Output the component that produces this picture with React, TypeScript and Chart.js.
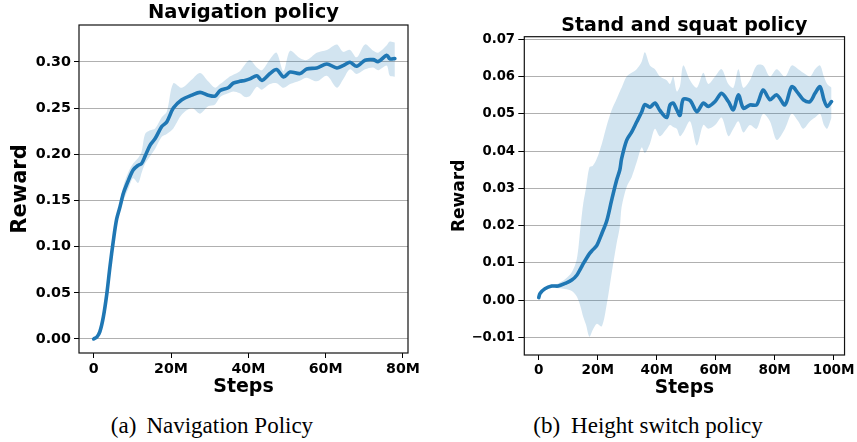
import React, { useEffect, useRef } from 'react';
import { Chart, registerables } from 'chart.js';

Chart.register(...registerables);

// ---------- Data: Navigation policy (steps in millions) ----------
const NAV_STEPS = [0, 0.8, 1.6, 2.5, 3.4, 4.2, 5.1, 5.9, 6.8, 7.7, 9.0, 10.2, 11.5, 12.4, 13.3, 14.6, 15.9, 17.6, 18.9, 20.6, 22.8, 25.4, 27.5, 29.6, 31.4, 32.7, 34.8, 36.1, 37.8, 39.1, 40.4, 42.2, 43.5, 45.6, 47.3, 49.1, 50.8, 53.4, 55.1, 57.7, 60.3, 62.9, 64.5, 66.3, 68.0, 70.2, 72.3, 73.6, 75.8, 76.6, 77.9];
const NAV_MEAN = [0.0, 0.002, 0.008, 0.024, 0.049, 0.078, 0.107, 0.129, 0.143, 0.158, 0.172, 0.183, 0.188, 0.19, 0.198, 0.21, 0.217, 0.23, 0.235, 0.25, 0.259, 0.264, 0.267, 0.264, 0.263, 0.269, 0.272, 0.277, 0.279, 0.28, 0.2816, 0.285, 0.28, 0.2874, 0.2917, 0.2837, 0.289, 0.2874, 0.2924, 0.2935, 0.2978, 0.2935, 0.296, 0.2996, 0.2953, 0.3018, 0.3025, 0.3004, 0.3072, 0.3033, 0.3036];
const NAV_UPPER = [0.001, 0.003, 0.01, 0.026, 0.051, 0.08, 0.11, 0.133, 0.148, 0.166, 0.181, 0.19, 0.196, 0.203, 0.222, 0.226, 0.228, 0.24, 0.246, 0.277, 0.272, 0.281, 0.288, 0.279, 0.272, 0.276, 0.283, 0.286, 0.29, 0.297, 0.302, 0.294, 0.291, 0.303, 0.31, 0.29, 0.312, 0.304, 0.302, 0.31, 0.313, 0.319, 0.311, 0.313, 0.305, 0.319, 0.312, 0.31, 0.318, 0.322, 0.321];
const NAV_LOWER = [-0.001, 0.001, 0.006, 0.022, 0.047, 0.076, 0.104, 0.125, 0.138, 0.15, 0.163, 0.174, 0.169, 0.18, 0.19, 0.198, 0.206, 0.219, 0.222, 0.228, 0.243, 0.25, 0.244, 0.252, 0.254, 0.262, 0.266, 0.268, 0.266, 0.262, 0.263, 0.273, 0.27, 0.276, 0.277, 0.272, 0.276, 0.28, 0.283, 0.279, 0.285, 0.272, 0.281, 0.292, 0.287, 0.292, 0.294, 0.291, 0.296, 0.285, 0.284];
const NAV_Y_TICKS = [0, 0.05, 0.1, 0.15, 0.2, 0.25, 0.3];
const NAV_X_TICKS = [0, 20, 40, 60, 80];
const NAV_X_LABELS = ['0', '20M', '40M', '60M', '80M'];

// ---------- Data: Stand and squat policy (steps in millions) ----------
const SQ_STEPS = [0, 0.44, 2.1, 4.4, 6.6, 8.9, 11.2, 12.9, 14.2, 15.1, 16.0, 17.2, 18.3, 19.7, 21.4, 23.1, 24.7, 26.4, 27.5, 28.1, 29.8, 31.5, 33.2, 34.9, 36.0, 37.7, 39.4, 41.1, 43.4, 44.5, 45.6, 46.8, 47.9, 49.0, 51.3, 53.6, 55.8, 57.5, 59.8, 62.0, 64.3, 66.0, 67.7, 69.4, 71.6, 73.9, 76.1, 78.4, 80.7, 83.5, 85.8, 88.0, 89.7, 92.0, 93.7, 95.4, 96.7, 97.8, 99.3];
const SQ_MEAN = [0.0007, 0.0018, 0.0031, 0.0038, 0.0038, 0.0045, 0.0054, 0.0067, 0.0085, 0.0098, 0.011, 0.0125, 0.0135, 0.0147, 0.0179, 0.0214, 0.0268, 0.0322, 0.035, 0.038, 0.0429, 0.0451, 0.0478, 0.0505, 0.0525, 0.0518, 0.0529, 0.0509, 0.049, 0.0524, 0.0529, 0.0511, 0.0496, 0.0539, 0.0536, 0.0506, 0.0529, 0.052, 0.0533, 0.0555, 0.0533, 0.0511, 0.0551, 0.0515, 0.0524, 0.0524, 0.0564, 0.0538, 0.0551, 0.0524, 0.0573, 0.0555, 0.0538, 0.0533, 0.0555, 0.0573, 0.0538, 0.052, 0.0533];
const SQ_UPPER = [0.0009, 0.002, 0.0034, 0.0042, 0.0045, 0.0056, 0.0075, 0.011, 0.02, 0.026, 0.03, 0.0357, 0.036, 0.038, 0.042, 0.047, 0.051, 0.054, 0.056, 0.057, 0.06, 0.061, 0.062, 0.064, 0.0665, 0.063, 0.062, 0.06, 0.059, 0.058, 0.06, 0.056, 0.0575, 0.063, 0.059, 0.057, 0.061, 0.058, 0.06, 0.062, 0.058, 0.057, 0.062, 0.057, 0.059, 0.063, 0.063, 0.06, 0.062, 0.06, 0.063, 0.062, 0.061, 0.06, 0.062, 0.063, 0.06, 0.058, 0.057];
const SQ_LOWER = [0.0005, 0.0016, 0.0028, 0.0034, 0.0032, 0.003, 0.0025, 0.001, -0.0018, -0.0045, -0.0065, -0.0098, -0.008, -0.0063, -0.007, -0.0009, 0.0071, 0.0152, 0.0197, 0.025, 0.0304, 0.033, 0.037, 0.041, 0.0395, 0.042, 0.046, 0.044, 0.046, 0.047, 0.0465, 0.046, 0.044, 0.045, 0.048, 0.0415, 0.047, 0.046, 0.047, 0.049, 0.044, 0.046, 0.048, 0.045, 0.047, 0.046, 0.05, 0.048, 0.043, 0.046, 0.05, 0.048, 0.046, 0.048, 0.049, 0.05, 0.047, 0.046, 0.049];
const SQ_Y_TICKS = [-0.01, 0, 0.01, 0.02, 0.03, 0.04, 0.05, 0.06, 0.07];
const SQ_X_TICKS = [0, 20, 40, 60, 80, 100];
const SQ_X_LABELS = ['0', '20M', '40M', '60M', '80M', '100M'];

const BLUE = '#1f77b4';
const BAND = 'rgba(31, 119, 180, 0.2)';
const FONT = '"DejaVu Sans", sans-serif';

const framePlugin = {
  id: 'frame',
  afterDraw(chart: any) {
    const { ctx, chartArea: a } = chart;
    ctx.save();
    ctx.strokeStyle = '#111';
    ctx.lineWidth = 1.2;
    ctx.strokeRect(a.left, a.top, a.right - a.left, a.bottom - a.top);
    ctx.restore();
  },
};

function fmtY(v: number) {
  const s = Math.abs(v).toFixed(2);
  return v < -1e-9 ? '\u2212' + s : s;
}

function makeConfig(p: any) {
  const pts = (ys: number[]) => p.steps.map((x: number, i: number) => ({ x, y: ys[i] }));
  return {
    type: 'line',
    data: {
      datasets: [
        { data: pts(p.upper), borderWidth: 0, pointRadius: 0, fill: '+1', backgroundColor: BAND, borderColor: 'rgba(0,0,0,0)', tension: 0.3, order: 2 },
        { data: pts(p.lower), borderWidth: 0, pointRadius: 0, fill: false, borderColor: 'rgba(0,0,0,0)', tension: 0.3, order: 2 },
        { data: pts(p.mean), borderWidth: 3.6, pointRadius: 0, fill: false, borderColor: BLUE, tension: 0.3, borderCapStyle: 'round', borderJoinStyle: 'round', order: 0 },
      ],
    },
    options: {
      responsive: false,
      animation: false,
      events: [],
      layout: { padding: { left: 0, right: p.padRight, top: 0, bottom: 0 } },
      plugins: {
        legend: { display: false },
        tooltip: { enabled: false },
        title: {
          display: true,
          text: p.title,
          fullSize: false,
          color: '#000',
          font: { family: FONT, weight: 'bold', size: p.titleSize, lineHeight: 1 },
          padding: { top: p.titlePadTop, bottom: p.titlePadBottom },
        },
      },
      scales: {
        x: {
          type: 'linear',
          min: p.xMin,
          max: p.xMax,
          afterBuildTicks: (s: any) => { s.ticks = p.xTicks.map((v: number) => ({ value: v })); },
          afterFit: (s: any) => { s.height = p.xHeight; },
          ticks: {
            autoSkip: false,
            maxRotation: 0,
            padding: p.xTickPad,
            color: '#000',
            font: { family: FONT, weight: 'bold', size: p.xTickSize },
            callback: (_v: any, i: number) => p.xLabels[i],
          },
          grid: { drawOnChartArea: false, drawTicks: true, tickLength: 5, tickColor: '#000', tickWidth: 1 },
          border: { display: false },
          title: {
            display: true,
            text: 'Steps',
            color: '#000',
            font: { family: FONT, weight: 'bold', size: p.xTitleSize, lineHeight: 1 },
            padding: { top: 0, bottom: p.xTitlePad },
          },
        },
        y: {
          type: 'linear',
          min: p.yMin,
          max: p.yMax,
          afterBuildTicks: (s: any) => { s.ticks = p.yTicks.map((v: number) => ({ value: v })); },
          afterFit: (s: any) => { s.width = p.yWidth; },
          ticks: {
            autoSkip: false,
            padding: p.yTickPad,
            color: '#000',
            font: { family: FONT, weight: 'bold', size: p.yTickSize },
            callback: (v: any) => fmtY(Number(v)),
          },
          grid: { drawOnChartArea: true, color: '#b0b0b0', lineWidth: 1, drawTicks: true, tickLength: p.yTickLen, tickColor: '#000', tickWidth: 1 },
          border: { display: false },
          title: {
            display: true,
            text: 'Reward',
            color: '#000',
            font: { family: FONT, weight: 'bold', size: p.yTitleSize, lineHeight: 1 },
            padding: { top: p.yTitlePad, bottom: 0 },
          },
        },
      },
    },
    plugins: [framePlugin],
  };
}

const NAV_PANEL = {
  steps: NAV_STEPS, mean: NAV_MEAN, upper: NAV_UPPER, lower: NAV_LOWER,
  yTicks: NAV_Y_TICKS, xTicks: NAV_X_TICKS, xLabels: NAV_X_LABELS,
  title: 'Navigation policy',
  xMin: -3.8, xMax: 81.3, yMin: -0.0152, yMax: 0.34,
  padRight: 22, yWidth: 79, xHeight: 47,
  titleSize: 19.5, titlePadTop: 3.4, titlePadBottom: 2.1,
  xTickSize: 14.2, xTickPad: 2.5, xTitleSize: 19, xTitlePad: 3.5,
  yTickSize: 14.3, yTickPad: 3, yTickLen: 5, yTitleSize: 21, yTitlePad: 10,
};

const SQ_PANEL = {
  steps: SQ_STEPS, mean: SQ_MEAN, upper: SQ_UPPER, lower: SQ_LOWER,
  yTicks: SQ_Y_TICKS, xTicks: SQ_X_TICKS, xLabels: SQ_X_LABELS,
  title: 'Stand and squat policy',
  xMin: -4.9, xMax: 103.7, yMin: -0.0147, yMax: 0.0707,
  padRight: 12, yWidth: 94.3, xHeight: 45,
  titleSize: 19, titlePadTop: 16.6, titlePadBottom: 1.1,
  xTickSize: 13.6, xTickPad: 2, xTitleSize: 18.6, xTitlePad: 2.9,
  yTickSize: 13.2, yTickPad: 3.3, yTickLen: 6, yTitleSize: 17, yTitlePad: 20.8,
};

function Panel({ spec, left, width }: { spec: any; left: number; width: number }) {
  const ref = useRef<HTMLCanvasElement | null>(null);
  useEffect(() => {
    if (!ref.current) return;
    const chart = new Chart(ref.current, makeConfig(spec) as any);
    return () => chart.destroy();
  }, [spec]);
  return (
    <canvas
      ref={ref}
      width={width}
      height={400}
      style={{ position: 'absolute', left, top: 0, width, height: 400, display: 'block' }}
    />
  );
}

const captionStyle: React.CSSProperties = {
  position: 'absolute',
  top: 414,
  fontFamily: '"Liberation Serif", "Times New Roman", serif',
  fontSize: 23,
  lineHeight: '23px',
  color: '#000',
  whiteSpace: 'nowrap',
  textAlign: 'center',
};

export default function App() {
  return (
    <div style={{ position: 'absolute', left: 0, top: 0, width: 857, height: 442, background: '#fff', overflow: 'hidden' }}>
      <Panel spec={NAV_PANEL} left={0} width={430} />
      <Panel spec={SQ_PANEL} left={430} width={427} />
      <div style={{ ...captionStyle, left: 12, width: 400 }}>
        <span>(a)</span><span style={{ marginLeft: 10 }}>Navigation Policy</span>
      </div>
      <div style={{ ...captionStyle, left: 448, width: 400 }}>
        <span>(b)</span><span style={{ marginLeft: 11 }}>Height switch policy</span>
      </div>
    </div>
  );
}
